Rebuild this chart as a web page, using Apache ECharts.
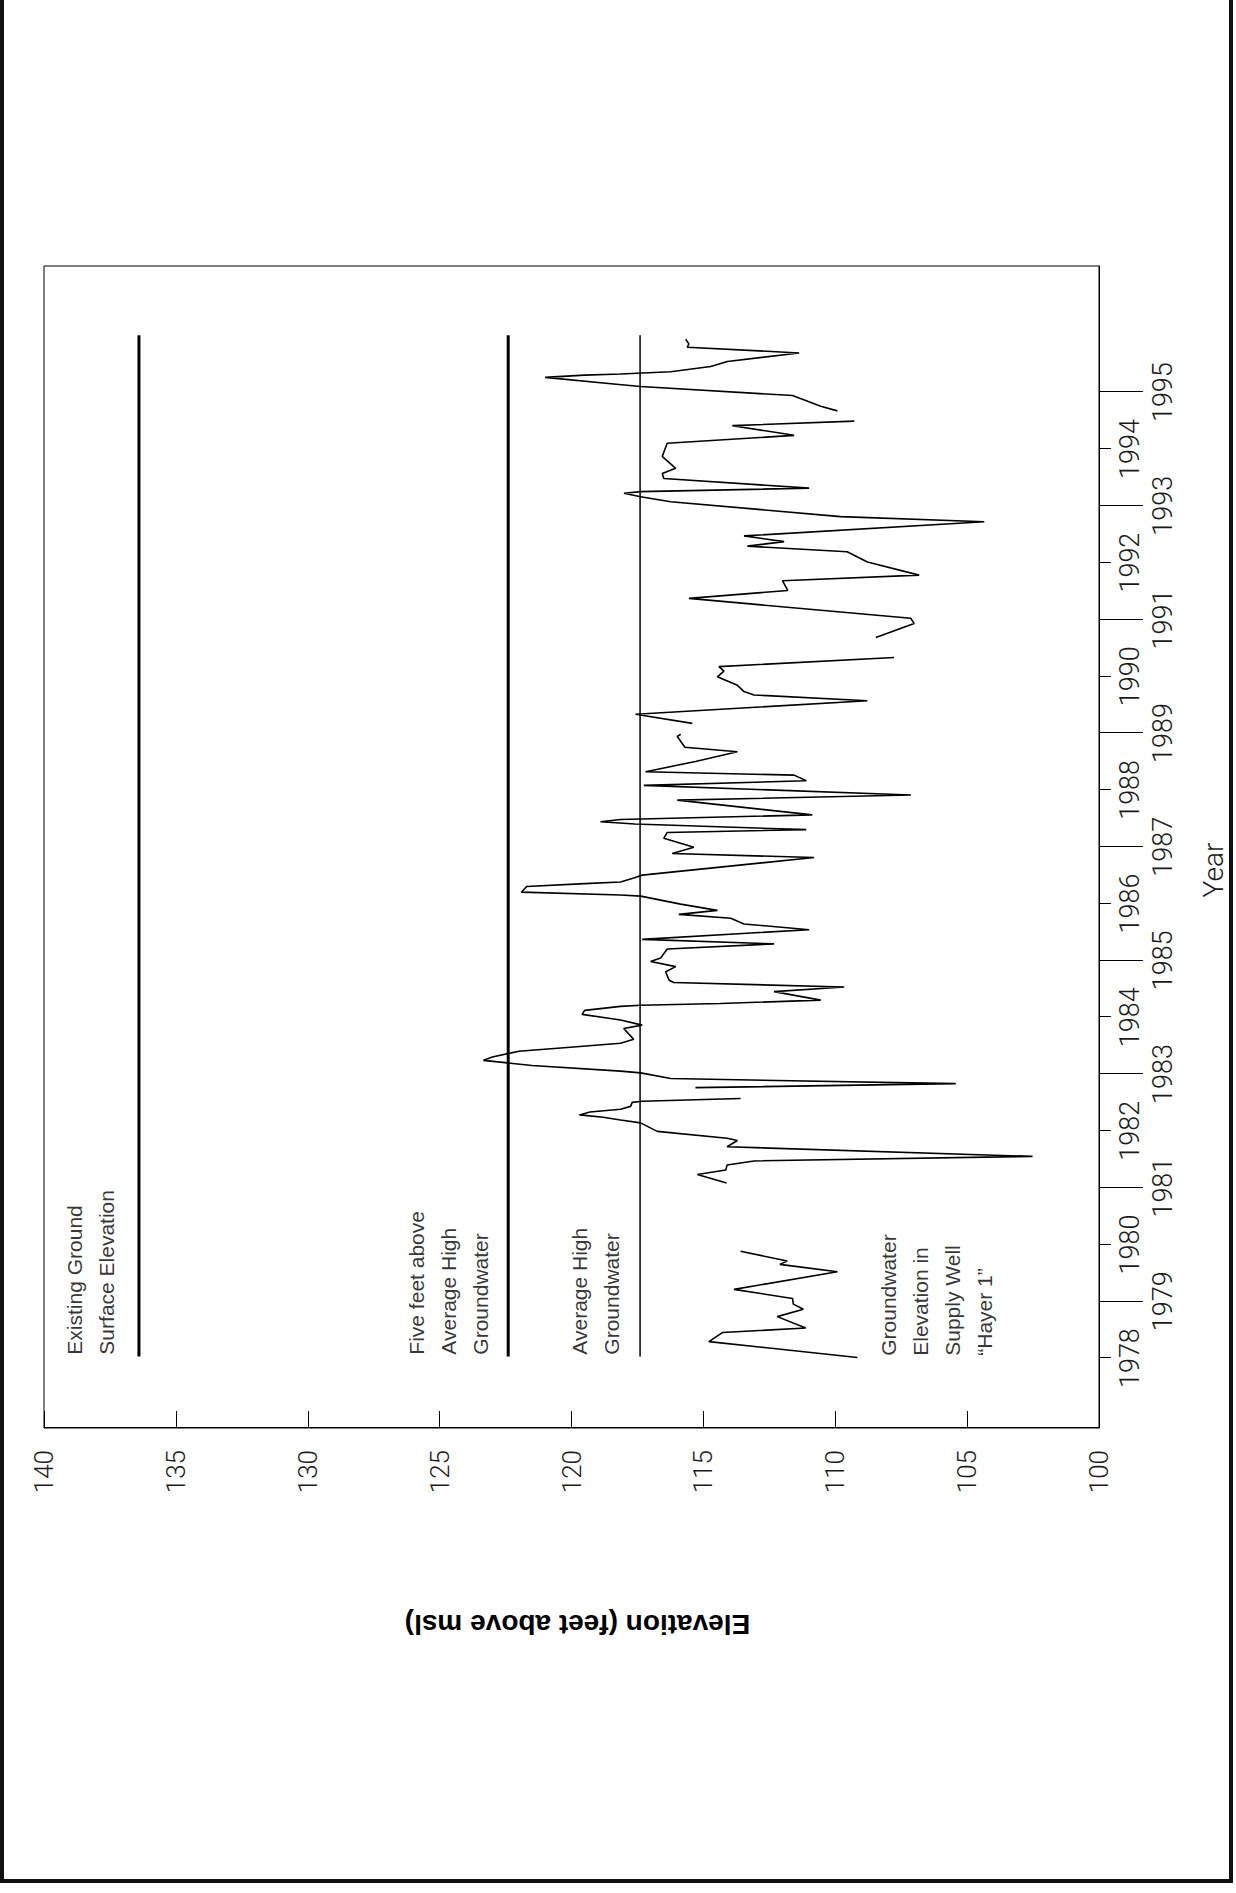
<!DOCTYPE html>
<html lang="en">
<head>
<meta charset="utf-8" />
<title>Groundwater Elevation in Supply Well "Hayer 1"</title>
<script src="https://cdn.jsdelivr.net/npm/echarts@6/dist/echarts.min.js"></script>
<style>
  html, body { margin: 0; padding: 0; background: #fff; }
  #page { position: relative; width: 1236px; height: 1893px; overflow: hidden; }
  /* the chart is drawn landscape and turned a quarter turn, like the scanned page */
  #main { position: absolute; left: 0; top: 0; width: 1893px; height: 1236px;
          transform-origin: 0 0; transform: translateY(1893px) rotate(-90deg); }
  .edge { position: absolute; background: #111; }
  .dots { position: absolute; left: 40px; top: 126px; width: 1150px; border-top: 1px dotted #c8c8c8; }
</style>
</head>
<body>
<div id="page">
  <div class="dots"></div>
  <div id="main"></div>
  <div class="edge" style="left:0;top:0;width:4px;height:1883px"></div>
  <div class="edge" style="left:1229px;top:0;width:4px;height:1883px"></div>
  <div class="edge" style="left:0;top:1879px;width:1233px;height:4px"></div>
</div>
<script>
// groundwater elevation in supply well "Hayer 1" (null = no record)
const hayerYear = [
  1978.01, 1978.29, 1978.45, 1978.53, 1978.73, 1978.86, 1978.95, 1979.05, 1979.21, 1979.52,
  1979.65, 1979.71, 1979.88,
  1980.50,
  1981.08, 1981.23, 1981.31, 1981.40, 1981.47, 1981.55, 1981.72, 1981.83, 1981.87, 1981.99,
  1982.14, 1982.19, 1982.24, 1982.28, 1982.33, 1982.38, 1982.43, 1982.50, 1982.52, 1982.57,
  1982.66,
  1982.76, 1982.83, 1982.92, 1983.02, 1983.05, 1983.15, 1983.24, 1983.30, 1983.40, 1983.48,
  1983.54, 1983.61, 1983.80, 1983.86, 1983.95, 1984.05, 1984.12, 1984.19, 1984.21, 1984.24,
  1984.30, 1984.45, 1984.53, 1984.61, 1984.65, 1984.80, 1984.89, 1984.98, 1985.04, 1985.20,
  1985.29, 1985.37, 1985.54, 1985.64, 1985.74, 1985.81, 1985.88, 1985.99, 1986.13, 1986.15,
  1986.20, 1986.30, 1986.35, 1986.38, 1986.45, 1986.50, 1986.81, 1986.88, 1986.99, 1987.15,
  1987.25, 1987.30, 1987.40, 1987.44, 1987.48, 1987.56, 1987.82, 1987.91, 1988.08, 1988.16,
  1988.26, 1988.32, 1988.50, 1988.67, 1988.75, 1988.94, 1988.98,
  1989.07,
  1989.17, 1989.33, 1989.57, 1989.67, 1989.73, 1989.84, 1989.99, 1990.09, 1990.17, 1990.33,
  1990.50,
  1990.68, 1990.93, 1991.02, 1991.37, 1991.51, 1991.68, 1991.78, 1992.01, 1992.19, 1992.29,
  1992.37, 1992.47, 1992.72, 1992.81, 1993.07, 1993.16, 1993.22, 1993.25, 1993.31, 1993.48,
  1993.57, 1993.66, 1993.87, 1994.10, 1994.24, 1994.41, 1994.49,
  1994.58,
  1994.67, 1994.75, 1994.94, 1995.10, 1995.14, 1995.26, 1995.30, 1995.32, 1995.36, 1995.45,
  1995.54, 1995.69, 1995.79, 1995.85, 1995.93
];
const hayerElev = [
  109.16, 114.79, 114.28, 111.12, 112.20, 111.21, 111.59, 111.62, 113.84, 109.92,
  112.10, 111.82, 113.59,
  null,
  114.12, 115.23, 114.15, 114.10, 113.08, 102.52, 114.10, 113.71, 114.10, 116.75,
  117.38, 118.14, 118.80, 119.70, 119.30, 118.14, 117.76, 117.70, 117.32, 113.59,
  null,
  115.30, 105.43, 116.24, 117.38, 118.14, 121.50, 123.34, 123.00, 122.00, 119.80,
  118.14, 117.64, 118.02, 117.32, 118.14, 119.60, 119.50, 118.14, 117.38, 114.35,
  110.55, 112.32, 109.66, 116.12, 116.30, 116.43, 116.05, 117.00, 116.62, 116.37,
  112.32, 117.32, 110.99, 113.46, 113.96, 115.93, 114.47, 115.86, 117.38, 118.14,
  121.90, 121.70, 119.50, 118.14, 117.64, 117.32, 110.80, 116.18, 115.36, 116.50,
  116.37, 111.10, 117.60, 118.90, 118.14, 110.87, 115.99, 107.13, 117.26, 111.10,
  111.56, 117.19, 115.30, 113.71, 115.70, 115.99, 115.86,
  null,
  115.42, 117.57, 108.78, 113.08, 113.46, 113.71, 114.47, 114.22, 114.41, 107.77,
  null,
  108.46, 107.01, 107.14, 115.55, 111.80, 112.00, 106.82, 108.78, 109.55, 113.33,
  111.94, 113.46, 104.35, 109.80, 116.24, 117.38, 118.01, 117.38, 110.99, 116.50,
  116.56, 116.05, 116.56, 116.37, 111.56, 113.90, 109.28,
  null,
  109.92, 110.55, 111.62, 117.38, 118.30, 121.00, 119.50, 118.14, 116.24, 114.72,
  114.09, 111.37, 115.61, 115.55, 115.67
];

// reference levels (feet above msl)
const refNames = ['Existing Ground Surface Elevation', 'Five feet above Average High Groundwater', 'Average High Groundwater'];
const refLevels = [136.4, 122.4, 117.4];
const refWidths = [3, 3, 1.5];
const refSpan = [1978.03, 1996.0];

// text notes placed in data coordinates (year, elevation of the first line)
const noteText = [
  'Existing Ground\nSurface Elevation',
  'Five feet above\nAverage High\nGroundwater',
  'Average High\nGroundwater',
  'Groundwater\nElevation in\nSupply Well\n\u201cHayer 1\u201d'
];
const noteYear = [1978.07, 1978.07, 1978.07, 1978.05];
const noteElev = [139.45, 126.45, 120.3, 108.55];

const evenYears = [1978, 1980, 1982, 1984, 1986, 1988, 1990, 1992, 1994];
const oddYears = [1979, 1981, 1983, 1985, 1987, 1989, 1991, 1993, 1995];

const X_MIN = 1976.77, X_MAX = 1997.22;

const tickFont = { fontFamily: 'Roboto, "DejaVu Sans", sans-serif', fontWeight: 300, color: '#1a1a1a' };
const black = { color: '#000', width: 1 };

const chart = echarts.init(document.getElementById('main'), null, { renderer: 'svg' });

const refSeries = refNames.map((name, i) => ({
  name: name,
  type: 'line',
  xAxisIndex: 0,
  data: refSpan.map(y => [y, refLevels[i]]),
  symbol: 'none',
  lineStyle: { color: '#000', width: refWidths[i] },
  z: 3
}));

const option = {
  animation: false,
  backgroundColor: '#fff',
  grid: { left: 465, right: 266, top: 44, bottom: 137, show: true, borderColor: '#000', borderWidth: 1 },
  xAxis: [
    {
      type: 'value', min: X_MIN, max: X_MAX, position: 'bottom',
      axisLine: { show: true, lineStyle: black },
      axisTick: { show: true, inside: false, length: 12, customValues: evenYears, lineStyle: black },
      axisLabel: { customValues: evenYears, margin: 17, fontSize: 27, formatter: v => String(v), ...tickFont },
      splitLine: { show: false },
      name: 'Year', nameLocation: 'middle', nameGap: 100,
      nameTextStyle: { fontSize: 28, padding: [0, 46, 0, 0], ...tickFont }
    },
    {
      type: 'value', min: X_MIN, max: X_MAX, position: 'bottom',
      axisLine: { show: false },
      axisTick: { show: true, inside: false, length: 44, customValues: oddYears, lineStyle: black },
      axisLabel: { customValues: oddYears, margin: 50, fontSize: 27, formatter: v => String(v), ...tickFont },
      splitLine: { show: false }
    }
  ],
  yAxis: {
    type: 'value', min: 100, max: 140, interval: 5,
    axisLine: { show: true, lineStyle: black },
    axisTick: { show: true, inside: true, length: 17, lineStyle: black },
    axisLabel: { margin: 22, fontSize: 26, formatter: v => String(v), ...tickFont },
    splitLine: { show: false },
    name: 'Elevation (feet above msl)', nameLocation: 'middle', nameGap: 182, nameRotate: 90,
    nameTextStyle: { fontFamily: '"Liberation Sans", Arial, sans-serif', fontWeight: 'bold', fontSize: 28,
                     color: '#000', padding: [0, 12, 0, 0] }
  },
  series: [
    ...refSeries,
    {
      name: 'Groundwater Elevation in Supply Well "Hayer 1"',
      type: 'line',
      xAxisIndex: 0,
      data: hayerYear.map((y, i) => [y, hayerElev[i] === null ? '-' : hayerElev[i]]),
      symbol: 'none',
      connectNulls: false,
      lineStyle: { color: '#000', width: 1.6 },
      z: 4
    },
    {
      name: 'notes',
      type: 'scatter',
      xAxisIndex: 0,
      symbolSize: 1,
      itemStyle: { color: 'rgba(0,0,0,0)' },
      data: noteText.map((t, i) => [noteYear[i], noteElev[i], t]),
      label: {
        show: true, position: [0, 0], align: 'left', verticalAlign: 'top',
        formatter: p => p.data[2],
        fontFamily: '"Liberation Sans", Arial, sans-serif', fontSize: 21, lineHeight: 32, color: '#000'
      },
      z: 5
    }
  ]
};

chart.setOption(option);
</script>
</body>
</html>
